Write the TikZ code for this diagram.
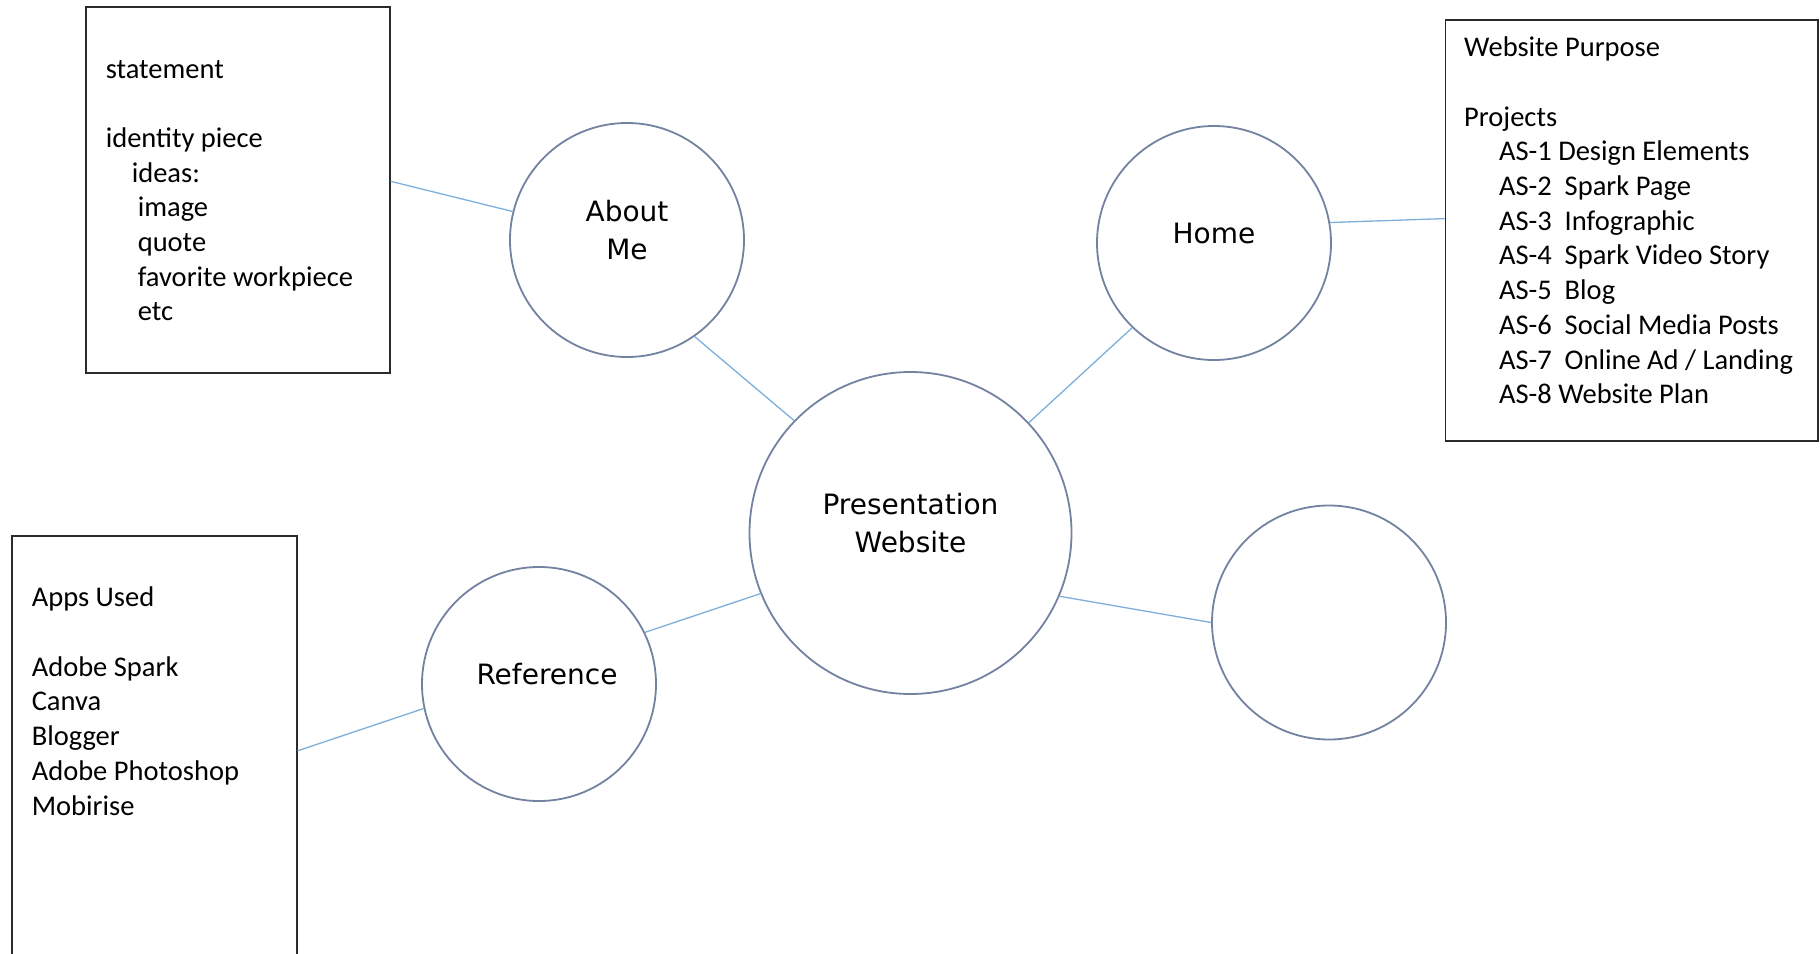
\documentclass[tikz,border=0pt]{standalone}
\usepackage{fontspec}
\setmainfont{Carlito}
\newfontfamily\bubblefont{DejaVu Sans}
\usetikzlibrary{calc}
\definecolor{ringgray}{HTML}{7382A0}
\definecolor{wireblue}{HTML}{7DAFDB}
\definecolor{boxline}{HTML}{2A2A2A}

\begin{document}
\begin{tikzpicture}[x=1pt,y=-1pt,
B/.style={circle, draw=ringgray, line width=1.8pt, fill=white, minimum size=#1, inner sep=0pt},
B/.default=234pt,
tB/.style={font=\bubblefont\fontsize{28}{37.6}\selectfont, align=center, inner sep=0pt, yshift=10},
N/.style={rectangle, draw=boxline, line width=1.6pt, anchor=north west, inner sep=0pt},
tN/.style={font=\fontsize{28.5}{34.7}\selectfont, align=left, anchor=base west, inner sep=0pt},
lC/.style={draw=wireblue, line width=1.3pt}]
%
\useasboundingbox (0,0) rectangle (1820,953);
\clip (0,0) rectangle (1820,953);
%\draw[help lines, color=gray!30, dashed] (0,0) grid[step=100] (1820,953);

\def\ind#1{\hspace*{#1pt}}

\node[N, minimum width=304, minimum height=366] at (85,6) (AboutNote) {};
\node[N, minimum width=372.5, minimum height=421] at (1444.6,19.3) (HomeNote) {};
\node[N, minimum width=285, minimum height=430] at (11,535) (RefNote) {};

\node[B=322pt] at (910.5,533) (Pmain) {};
\node[B] at (627,240) (About) {};
\node[B] at (1214,243) (Home) {};
\node[B] at (539,684) (Ref) {};
\node[B] at (1329,622.5) (Empty) {};

\node[tB] at (Pmain) (PmainTxt) {Presentation\\Website};
\node[tB] at (About) (AboutTxt) {About\\Me};
\node[tB] at (Home) (HomeTxt) {Home};
\node[tB, xshift=8] at (Ref) (RefTxt) {Reference};

% lists are placed by the baseline of their last line
\node[tN] at ([xshift=20.6,yshift=-314.9]AboutNote.north west) (AboutList) {statement\\[34.7pt]
identity piece\\
\ind{26}ideas:\\
\ind{32}image\\
\ind{32}quote\\
\ind{32}favorite workpiece\\
\ind{32}etc};

\node[tN] at ([xshift=19.4,yshift=-384.4]HomeNote.north west) (HomeList) {Website Purpose\\[34.7pt]
Projects\\
\ind{35}AS-1 Design Elements\\
\ind{35}AS-2~~Spark Page\\
\ind{35}AS-3~~Infographic\\
\ind{35}AS-4~~Spark Video Story\\
\ind{35}AS-5~~Blog\\
\ind{35}AS-6~~Social Media Posts\\
\ind{35}AS-7~~Online Ad / Landing\\
\ind{35}AS-8 Website Plan};

\node[tN] at ([xshift=20.6,yshift=-280]RefNote.north west) (RefList) {Apps Used\\[34.7pt]
Adobe Spark\\
Canva\\
Blogger\\
Adobe Photoshop\\
Mobirise};

\draw[lC] (About.166.9) -- ([yshift=8.5]AboutNote.east);
\draw[lC] (About.-55) -- (Pmain.136.8);
\draw[lC] (Home.-134.3) -- (Pmain.43.6);
\draw[lC] (Home.10) -- ([yshift=12]HomeNote.west);
\draw[lC] (Pmain.202.9) -- (Ref.26.1);
\draw[lC] (Ref.192.6) -- (RefNote.east);
\draw[lC] (Pmain.-23.9) -- (Empty.180);

\end{tikzpicture}
\end{document}
